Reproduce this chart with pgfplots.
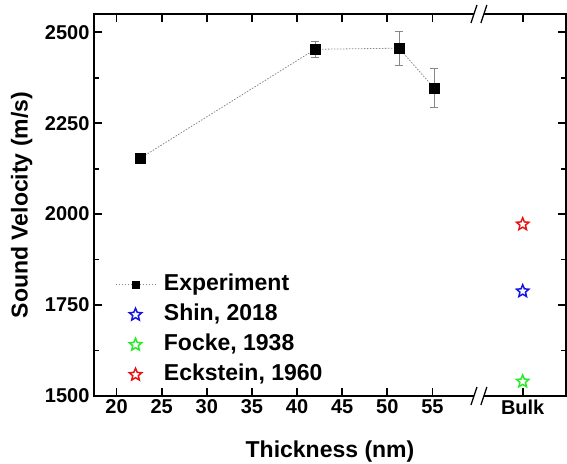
\documentclass[border=0pt]{standalone}
\usepackage{fontspec}
\setmainfont{Liberation Sans}
\usepackage{pgfplots}
\pgfplotsset{compat=1.18}
\definecolor{sblue}{RGB}{20,20,230}
\definecolor{sgreen}{RGB}{40,235,40}
\definecolor{sred}{RGB}{230,20,20}
\definecolor{ebar}{RGB}{135,135,135}

\pgfdeclareplotmark{pstar}{%
  \pgfpathmoveto{\pgfpointpolar{90}{\pgfplotmarksize}}%
  \pgfpathlineto{\pgfpointpolar{126}{0.45\pgfplotmarksize}}%
  \pgfpathlineto{\pgfpointpolar{162}{\pgfplotmarksize}}%
  \pgfpathlineto{\pgfpointpolar{198}{0.45\pgfplotmarksize}}%
  \pgfpathlineto{\pgfpointpolar{234}{\pgfplotmarksize}}%
  \pgfpathlineto{\pgfpointpolar{270}{0.45\pgfplotmarksize}}%
  \pgfpathlineto{\pgfpointpolar{306}{\pgfplotmarksize}}%
  \pgfpathlineto{\pgfpointpolar{342}{0.45\pgfplotmarksize}}%
  \pgfpathlineto{\pgfpointpolar{18}{\pgfplotmarksize}}%
  \pgfpathlineto{\pgfpointpolar{54}{0.45\pgfplotmarksize}}%
  \pgfpathclose
  \pgfusepathqfillstroke
}

\pgfplotsset{
  explegend/.style={legend image code/.code={\draw[mark repeat=2,mark phase=2,##1,mark size=3.6pt] plot coordinates {(0pt,0pt) (20pt,0pt) (40pt,0pt)};}},
}

\pgfplotstableread{
x y e
22.6 2153 12
42.0 2453 22
51.3 2456 47
55.2 2346 54
}\exptable

\begin{document}
\begin{tikzpicture}
\begin{axis}[
  scale only axis, width=472pt, height=382pt,
  xmin=17.5, xmax=69.8, ymin=1500, ymax=2550,
  xtick={20,25,30,35,40,45,50,55,65},
  xticklabels={20,25,30,35,40,45,50,55,Bulk},
  ytick={1500,1750,2000,2250,2500},
  minor ytick={1625,1875,2125,2375},
  tick align=inside,
  major tick length=8pt, minor tick length=5pt,
  every tick/.style={black, line width=1.8pt},
  axis line style={line width=2pt},
  tick label style={font=\bfseries\fontsize{20}{22}\selectfont},
  /pgf/number format/assume math mode=true,
  /pgf/number format/1000 sep={},
  yticklabel style={xshift=-1pt},
  xlabel={Thickness (nm)}, ylabel={Sound Velocity (m/s)},
  label style={font=\bfseries\fontsize{23}{26}\selectfont},
  xlabel style={at={(axis description cs:0.5,-0.146)}, anchor=center},
  ylabel style={at={(axis description cs:-0.153,0.5)}, anchor=center},
  legend style={draw=none, fill=none, at={(axis description cs:0.038,0.331)}, anchor=north west,
    font=\bfseries\fontsize{23}{26}\selectfont,
    nodes={inner sep=2pt, text height=17pt, text depth=5pt}, row sep=4pt, column sep=6pt},
  legend cell align=left,
  legend image code/.code={\draw[mark repeat=2,mark phase=2,#1] plot coordinates {(0pt,0pt) (20pt,0pt) (40pt,0pt)};},
  clip=false,
]
\addplot[color=ebar, dash pattern=on 1.5pt off 1.5pt, line width=0.8pt,
  mark=square*, mark size=5pt, mark options={solid, fill=black, draw=black},
  explegend,
  error bars/.cd, y dir=both, y explicit,
  error bar style={ebar, line width=1pt, solid},
  error mark options={ebar, rotate=90, mark size=4pt, line width=1pt, solid}]
  table[x=x, y=y, y error=e] {\exptable};
\addlegendentry{Experiment}
\addplot[only marks, mark=pstar, mark size=6.5pt, mark options={draw=sblue, line width=1.5pt, fill=white}]
  coordinates {(65,1788)};
\addlegendentry{Shin, 2018}
\addplot[only marks, mark=pstar, mark size=6.5pt, mark options={draw=sgreen, line width=1.5pt, fill=white}]
  coordinates {(65,1540)};
\addlegendentry{Focke, 1938}
\addplot[only marks, mark=pstar, mark size=6.5pt, mark options={draw=sred, line width=1.5pt, fill=white}]
  coordinates {(65,1972)};
\addlegendentry{Eckstein, 1960}
% axis break marks
\fill[white] ([yshift=-3pt]axis cs:59.6,1500) rectangle ([yshift=3pt]axis cs:60.7,1500);
\fill[white] ([yshift=-3pt]axis cs:59.6,2550) rectangle ([yshift=3pt]axis cs:60.7,2550);
\draw[line width=1.3pt] ([xshift=-3pt,yshift=-9pt]axis cs:59.6,1500) -- ([xshift=3pt,yshift=9pt]axis cs:59.6,1500);
\draw[line width=1.3pt] ([xshift=-3pt,yshift=-9pt]axis cs:60.7,1500) -- ([xshift=3pt,yshift=9pt]axis cs:60.7,1500);
\draw[line width=1.3pt] ([xshift=-3pt,yshift=-9pt]axis cs:59.6,2550) -- ([xshift=3pt,yshift=9pt]axis cs:59.6,2550);
\draw[line width=1.3pt] ([xshift=-3pt,yshift=-9pt]axis cs:60.7,2550) -- ([xshift=3pt,yshift=9pt]axis cs:60.7,2550);
\end{axis}
\pgfresetboundingbox
\path[use as bounding box] (-94pt,-67pt) rectangle (473pt,396pt);
\end{tikzpicture}
\end{document}
